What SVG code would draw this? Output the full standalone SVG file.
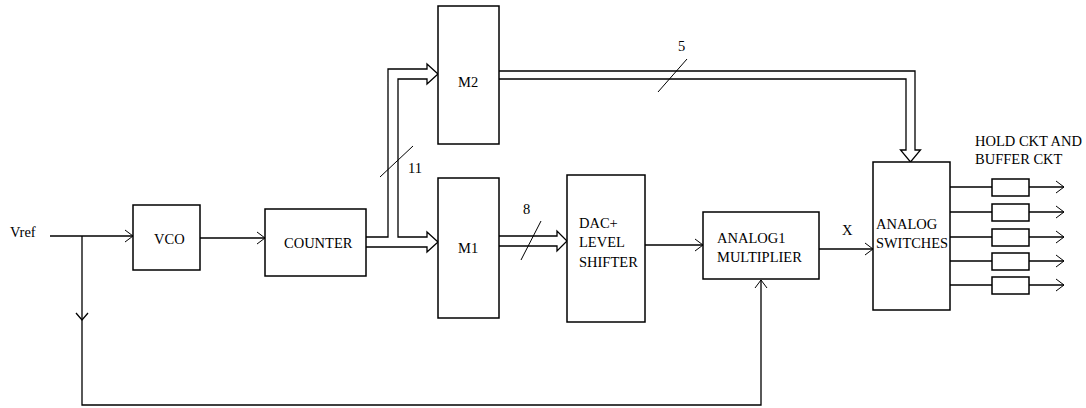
<svg xmlns="http://www.w3.org/2000/svg" width="1086" height="408" viewBox="0 0 1086 408">
<style>
.box{fill:#fff;stroke:#000;stroke-width:1.5}
.ln{fill:none;stroke:#000;stroke-width:1.3}
.bus{fill:#fff;stroke:#000;stroke-width:1.3;stroke-linejoin:miter}
.sl{fill:none;stroke:#000;stroke-width:1}
text{font-family:"Liberation Serif","Times New Roman",serif;font-size:14.5px;fill:#000}
</style>
<defs>
<marker id="arr" markerUnits="userSpaceOnUse" markerWidth="12" markerHeight="14" refX="8" refY="6" orient="auto" overflow="visible">
<path d="M0,0 L8,6 L0,12" fill="none" stroke="#000" stroke-width="1"/>
</marker>
</defs>
<text x="10" y="237">Vref</text>
<g id="connectors">
<path class="ln" d="M50,236 H133" marker-end="url(#arr)"/>
<path class="ln" d="M82,236 V405 H761 V280" marker-end="url(#arr)"/>
<path class="ln" d="M76,313 L82,320 L88,313"/>
<path class="ln" d="M200,238 H265" marker-end="url(#arr)"/>
<path class="bus" d="M366,237 H388 V69 H427 V64 L438,74 L427,84 V79 H398 V237 H427 V232 L438,242 L427,252 V247 H366"/>
<path class="bus" d="M499,236 H557 V231 L567,241 L557,251 V246 H499"/>
<path class="bus" d="M499,71 H915 V150 H920.5 L910.5,162 L900.5,150 H906 V79 H499"/>
<path class="ln" d="M645,245 H703" marker-end="url(#arr)"/>
<path class="ln" d="M819,249 H873" marker-end="url(#arr)"/>
<path class="sl" d="M380,177 L413,146"/>
<path class="sl" d="M521,260 L541,221"/>
<path class="sl" d="M658,92 L687,59"/>
<path class="ln" d="M950,187 H992 M950,212 H992 M950,237 H992 M950,261 H992 M950,285 H992"/>
<path class="ln" d="M1029,187 H1064" marker-end="url(#arr)"/>
<path class="ln" d="M1029,212 H1064" marker-end="url(#arr)"/>
<path class="ln" d="M1029,237 H1064" marker-end="url(#arr)"/>
<path class="ln" d="M1029,261 H1064" marker-end="url(#arr)"/>
<path class="ln" d="M1029,285 H1064" marker-end="url(#arr)"/>
<text x="408" y="173">11</text>
<text x="523" y="214">8</text>
<text x="678" y="51">5</text>
<text x="842" y="235">X</text>
</g>
<g id="vco"><rect class="box" x="133" y="205" width="67" height="65"/><text x="154" y="244">VCO</text></g>
<g id="counter"><rect class="box" x="265" y="209" width="101" height="67"/><text x="284" y="248">COUNTER</text></g>
<g id="m2"><rect class="box" x="438" y="6" width="61" height="138"/><text x="458" y="87">M2</text></g>
<g id="m1"><rect class="box" x="438" y="178" width="61" height="140"/><text x="458" y="253">M1</text></g>
<g id="dac"><rect class="box" x="567" y="175" width="78" height="147"/><text x="579" y="228">DAC+</text><text x="579" y="247">LEVEL</text><text x="579" y="267">SHIFTER</text></g>
<g id="multiplier"><rect class="box" x="703" y="212" width="116" height="67"/><text x="717" y="243">ANALOG1</text><text x="717" y="262">MULTIPLIER</text></g>
<g id="switches"><rect class="box" x="873" y="162" width="77" height="148"/><text x="876" y="229">ANALOG</text><text x="876" y="248" textLength="72" lengthAdjust="spacingAndGlyphs">SWITCHES</text></g>
<g id="hold">
<rect class="box" x="992" y="179" width="37" height="17"/>
<rect class="box" x="992" y="204" width="37" height="17"/>
<rect class="box" x="992" y="229" width="37" height="17"/>
<rect class="box" x="992" y="253" width="37" height="17"/>
<rect class="box" x="992" y="277" width="37" height="17"/>
<text x="975" y="146">HOLD CKT AND</text>
<text x="975" y="164">BUFFER CKT</text>
</g>
</svg>
